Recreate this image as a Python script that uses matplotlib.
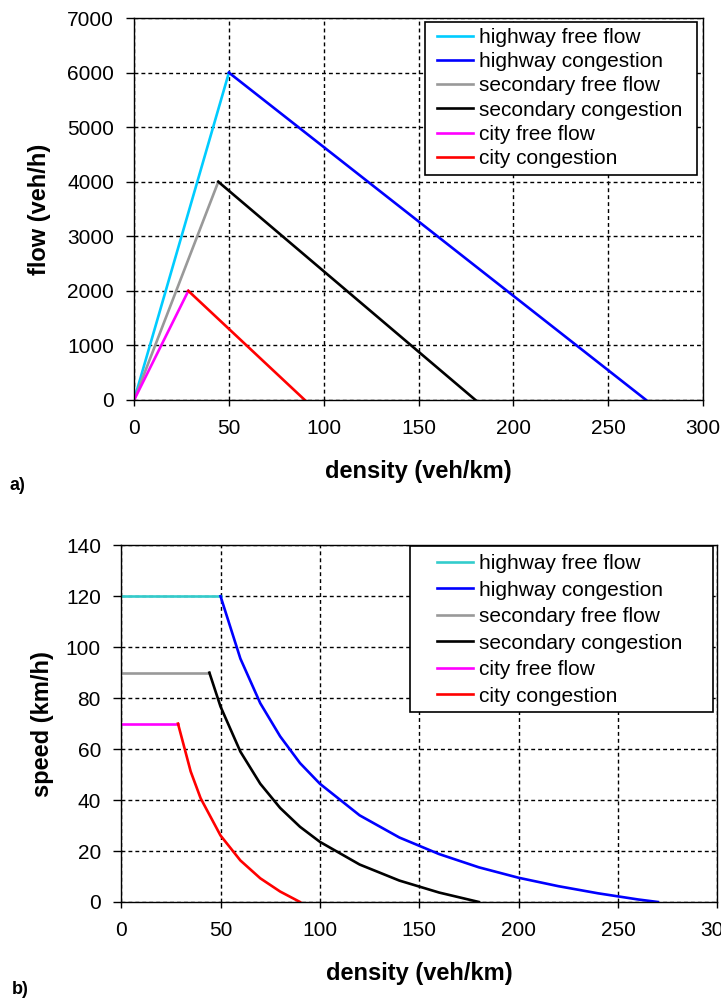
import matplotlib
matplotlib.use("Agg")
import matplotlib.pyplot as plt
from matplotlib.patches import Rectangle

plt.rcParams['font.family'] = ['Liberation Sans', 'DejaVu Sans']

# flow-density (panel a)
hw_ff_k = [0, 50]
hw_ff_q = [0, 6000]
hw_cg_k = [50, 270]
hw_cg_q = [6000, 0]
sec_ff_k = [0, 44.4]
sec_ff_q = [0, 4000]
sec_cg_k = [44.4, 180]
sec_cg_q = [4000, 0]
city_ff_k = [0, 28.6]
city_ff_q = [0, 2000]
city_cg_k = [28.6, 90]
city_cg_q = [2000, 0]

# speed-density (panel b)
hw_ff_vk = [0, 50]
hw_ff_v = [120, 120]
hw_cg_vk = [50, 60, 70, 80, 90, 100, 120, 140, 160, 180, 200, 220, 240, 260, 270]
hw_cg_v = [120, 95.5, 78, 65, 54.5, 46.4, 34, 25.3, 18.8, 13.6, 9.5, 6.2, 3.4, 1.0, 0]
sec_ff_vk = [0, 44.4]
sec_ff_v = [90, 90]
sec_cg_vk = [44.4, 50, 60, 70, 80, 90, 100, 120, 140, 160, 180]
sec_cg_v = [90, 76.7, 59, 46.4, 36.9, 29.5, 23.6, 14.7, 8.4, 3.7, 0]
city_ff_vk = [0, 28.6]
city_ff_v = [70, 70]
city_cg_vk = [28.6, 35, 40, 50, 60, 70, 80, 90]
city_cg_v = [70, 51.2, 40.7, 26.1, 16.3, 9.3, 4.1, 0]

labels = ['highway free flow', 'highway congestion', 'secondary free flow',
          'secondary congestion', 'city free flow', 'city congestion']

LW = 1.9


def style_axes(ax, ymax, ystep):
    ax.set_xlim(0, 300)
    ax.set_ylim(0, ymax)
    ax.set_xticks(range(0, 301, 50))
    ax.set_yticks(range(0, ymax + 1, ystep))
    ax.grid(True, color='black', linestyle=(0, (2.8, 2.2)), linewidth=1.0)
    ax.tick_params(axis='x', direction='out', length=4.5, width=1, labelsize=15, pad=9)
    ax.tick_params(axis='y', direction='out', length=6, width=1, labelsize=15, pad=8.5)
    for s in ax.spines.values():
        s.set_linewidth(1.0)
    ax.set_xlabel('density (veh/km)', fontsize=17, fontweight='bold')


def boxed_legend(ax, box, anchor, spacing):
    # legend box drawn separately, it is wider than the entries
    ax.add_patch(Rectangle(box[:2], box[2], box[3], transform=ax.transAxes,
                           facecolor='white', edgecolor='black', linewidth=1.2, zorder=4))
    leg = ax.legend(loc='upper left', bbox_to_anchor=anchor, fontsize=15,
                    handlelength=1.7, frameon=False, borderaxespad=0, borderpad=0,
                    labelspacing=spacing, handletextpad=0.3)
    leg.set_zorder(5)
    return leg


fig = plt.figure(figsize=(7.21, 10.05), dpi=100)

# panel a
ax1 = fig.add_axes([0.186, 0.602, 0.789, 0.380])
ax1.plot(hw_ff_k, hw_ff_q, color='#00ccff', lw=LW, label=labels[0])
ax1.plot(hw_cg_k, hw_cg_q, color='#0000ff', lw=LW, label=labels[1])
ax1.plot(sec_ff_k, sec_ff_q, color='#999999', lw=LW, label=labels[2])
ax1.plot(sec_cg_k, sec_cg_q, color='black', lw=LW, label=labels[3])
ax1.plot(city_ff_k, city_ff_q, color='#ff00ff', lw=LW, label=labels[4])
ax1.plot(city_cg_k, city_cg_q, color='#ff0000', lw=LW, label=labels[5])
style_axes(ax1, 7000, 1000)
ax1.set_ylabel('flow (veh/h)', fontsize=17, fontweight='bold')
ax1.yaxis.set_label_coords(-0.146, 0.5)
ax1.xaxis.set_label_coords(0.5, -0.158)
boxed_legend(ax1, (0.511, 0.589, 0.478, 0.401), (0.533, 0.974), 0.25)

# panel b
ax2 = fig.add_axes([0.168, 0.1025, 0.827, 0.355])
ax2.plot(hw_ff_vk, hw_ff_v, color='#33cccc', lw=LW, label=labels[0])
ax2.plot(hw_cg_vk, hw_cg_v, color='#0000ff', lw=LW, label=labels[1])
ax2.plot(sec_ff_vk, sec_ff_v, color='#999999', lw=LW, label=labels[2])
ax2.plot(sec_cg_vk, sec_cg_v, color='black', lw=LW, label=labels[3])
ax2.plot(city_ff_vk, city_ff_v, color='#ff00ff', lw=LW, label=labels[4])
ax2.plot(city_cg_vk, city_cg_v, color='#ff0000', lw=LW, label=labels[5])
style_axes(ax2, 140, 20)
ax2.set_ylabel('speed (km/h)', fontsize=17, fontweight='bold')
ax2.yaxis.set_label_coords(-0.112, 0.5)
ax2.xaxis.set_label_coords(0.5, -0.168)
boxed_legend(ax2, (0.485, 0.532, 0.507, 0.465), (0.530, 0.975), 0.36)

fig.text(0.013, 0.517, 'a)', fontsize=13, fontweight='bold', va='center')
fig.text(0.016, 0.015, 'b)', fontsize=13, fontweight='bold', va='center')

fig.savefig('out.png', dpi=100)
